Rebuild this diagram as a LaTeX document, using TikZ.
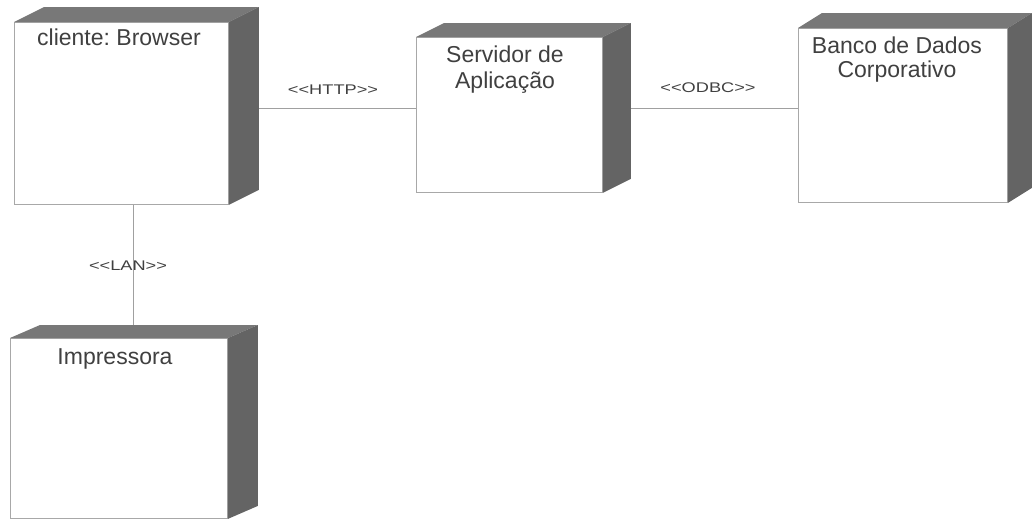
\documentclass[tikz,border=0pt]{standalone}
\usepackage{fontspec}
\setmainfont{Liberation Sans}
\frenchspacing
\definecolor{topc}{HTML}{787878}
\definecolor{sidec}{HTML}{646464}
\definecolor{edgec}{HTML}{A8A8A8}
\definecolor{txtc}{HTML}{404040}
\definecolor{linec}{HTML}{A0A0A0}
\tikzset{
  front/.style={draw=edgec, line width=0.9pt, fill=white, anchor=north west, inner sep=0pt},
  title/.style={text=txtc, font=\fontsize{23}{26}\selectfont, anchor=base, inner sep=0pt, align=center},
  stereo/.style={text=txtc, font=\fontsize{14}{16}\selectfont, inner sep=1pt},
  conn/.style={draw=linec, line width=0.8pt},
}
\newcommand{\cube}[3]{%
  \fill[topc] (#1.north west) -- ++(#2,-#3) -- ([shift={(#2,-#3)}]#1.north east) -- (#1.north east) -- cycle;
  \fill[sidec] (#1.north east) -- ([shift={(#2,-#3)}]#1.north east) -- ([shift={(#2,-#3)}]#1.south east) -- (#1.south east) -- cycle;
}
\newcommand{\st}[1]{\scalebox{1.3}[1]{<{}<#1>{}>}}
\begin{document}
\begin{tikzpicture}[x=1pt,y=-1pt]
\useasboundingbox (0,0) rectangle (1033,522);
% nodes (front faces)
\node[front, minimum width=214pt, minimum height=182pt] (cli) at (14,22) {};
\node[front, minimum width=186pt, minimum height=155pt] (srv) at (416,37) {};
\node[front, minimum width=209pt, minimum height=174pt] (bd) at (798,28) {};
\node[front, minimum width=217pt, minimum height=180pt] (imp) at (10,338) {};
\cube{cli}{30}{15}
\cube{srv}{28}{14}
\cube{bd}{24}{15}
\cube{imp}{30}{13}
% titles
\node[title] (tcli) at (119,45) {cliente: Browser};
\node[title] (tsrv1) at (505,62) {Servidor de};
\node[title] (tsrv2) at (505,88) {Aplicação};
\node[title] (tbd1) at (897,53) {Banco de Dados};
\node[title] (tbd2) at (897,77) {Corporativo};
\node[title] (timp) at (115,364) {Impressora};
% connectors
\coordinate (h1) at ([xshift=30pt]cli.east |- 0,108);
\coordinate (o1) at ([xshift=28pt]srv.east |- 0,108);
\draw[conn] (h1) -- (h1 -| srv.west);
\draw[conn] (o1) -- (o1 -| bd.west);
\coordinate (impTop) at ([yshift=13pt]imp.north);
\coordinate (l1) at ([xshift=12pt]cli.south);
\draw[conn] (l1) -- (l1 |- impTop);
% stereotypes
\node[stereo] (lhttp) at (333,90) {\st{HTTP}};
\node[stereo] (lodbc) at (708,88) {\st{ODBC}};
\node[stereo] (llan) at (128,266) {\st{LAN}};
\end{tikzpicture}
\end{document}
